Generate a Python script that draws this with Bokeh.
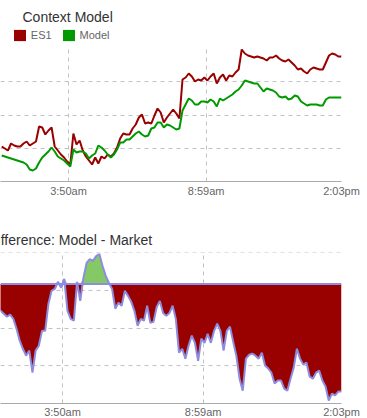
from bokeh.plotting import figure
from bokeh.models import Range1d, FixedTicker, Legend, LegendItem, Span, Label, Grid
from bokeh.layouts import column
from bokeh.embed import file_html
from bokeh.resources import INLINE
import numpy as np

FONT = "Liberation Sans"

# time axis: minutes since midnight, one sample every 7 minutes
start_minute = 80
step_minutes = 7
tick_minutes = [230, 539, 843]
tick_labels = ["3:50am", "8:59am", "2:03pm"]

es1 = [
    2743.5, 2743.3, 2743.1, 2743.8, 2743.6, 2743.5, 2743.5, 2743.8, 2744.0, 2743.6,
    2743.8, 2744.0, 2745.5, 2745.4, 2744.7, 2745.1, 2745.4, 2743.5, 2743.1, 2742.7,
    2742.4, 2742.0, 2741.7, 2744.8, 2743.7, 2744.1, 2743.1, 2742.5, 2742.1, 2741.7,
    2742.4, 2741.8, 2742.5, 2742.3, 2742.7, 2742.5, 2742.8, 2743.4, 2744.3, 2744.8,
    2744.7, 2744.7, 2745.3, 2745.7, 2746.4, 2746.7, 2745.8, 2745.9, 2745.8, 2746.6,
    2747.3, 2746.9, 2745.9, 2746.4, 2746.8, 2747.2, 2746.8, 2746.3, 2750.2, 2750.4,
    2750.8, 2750.5, 2750.0, 2750.2, 2750.1, 2750.4, 2750.1, 2750.5, 2750.8, 2749.8,
    2750.4, 2750.7, 2750.1, 2750.6, 2750.5, 2750.9, 2751.2, 2753.2, 2752.8, 2752.6,
    2752.5, 2752.4, 2752.5, 2752.4, 2752.3, 2752.1, 2752.4, 2752.4, 2752.6, 2752.3,
    2752.1, 2752.0, 2752.2, 2751.9, 2751.6, 2751.2, 2751.3, 2751.0, 2750.8, 2751.2,
    2751.4, 2751.3, 2751.2, 2751.2, 2751.9, 2752.6, 2752.8, 2752.7, 2752.5, 2752.5,
]

model = [
    2742.6, 2742.5, 2742.4, 2742.3, 2742.2, 2742.1, 2742.0, 2741.9, 2741.7, 2741.2,
    2741.1, 2741.3, 2741.9, 2742.4, 2742.7, 2743.0, 2743.4, 2743.0, 2742.5, 2742.3,
    2742.1, 2741.8, 2741.5, 2743.2, 2742.9, 2743.0, 2743.0, 2742.8, 2742.3, 2742.6,
    2742.8, 2743.6, 2743.4, 2743.1, 2742.7, 2742.4, 2742.7, 2743.2, 2743.9, 2743.9,
    2744.2, 2744.2, 2744.5, 2744.8, 2745.0, 2744.7, 2744.5, 2744.6, 2745.3, 2745.4,
    2745.9, 2745.9, 2745.4, 2745.7, 2745.6, 2745.4, 2745.2, 2745.3, 2747.1, 2747.7,
    2748.3, 2748.1, 2747.7, 2747.7, 2748.0, 2748.0, 2747.9, 2748.2, 2748.0, 2747.5,
    2748.3, 2748.1, 2748.3, 2748.5, 2748.7, 2749.0, 2749.2, 2749.6, 2750.1, 2750.0,
    2749.9, 2749.8, 2749.8, 2749.4, 2749.0, 2749.3, 2749.2, 2749.1, 2748.9, 2748.5,
    2748.4, 2748.5, 2748.2, 2748.3, 2748.6, 2748.5, 2748.0, 2747.8, 2747.6, 2747.7,
    2747.7, 2747.7, 2747.6, 2747.6, 2748.2, 2748.4, 2748.4, 2748.4, 2748.4, 2748.4,
]

difference = [
    -0.57, -0.73, -0.90, -1.00, -1.10, -1.03, -1.17, -1.50, -1.90, -2.17,
    -2.40, -2.23, -2.97, -2.23, -2.07, -1.57, -1.57, -0.67, -0.23, -0.17,
    0.07, -0.13, 0.17, -0.90, -1.17, -1.23, 0.07, -0.57, 0.20, 0.70,
    0.83, 0.77, 0.93, 1.00, 0.60, 0.27, 0.03, -0.17, -0.83, -0.63,
    -0.73, -0.23, -0.40, -0.60, -0.90, -1.40, -1.17, -1.23, -0.73, -1.30,
    -1.27, -0.77, -0.57, -0.97, -1.07, -0.97, -0.73, -1.17, -2.30, -2.17,
    -2.50, -2.07, -1.73, -1.97, -2.57, -1.83, -1.97, -1.67, -1.97, -1.57,
    -1.33, -1.57, -2.23, -1.57, -1.43, -1.93, -2.40, -3.17, -3.57, -2.50,
    -2.37, -2.33, -2.40, -2.50, -2.30, -2.73, -2.83, -2.97, -3.33, -3.23,
    -3.23, -3.50, -3.57, -3.17, -2.80, -2.17, -2.50, -2.70, -2.63, -3.10,
    -3.17, -2.97, -2.90, -3.23, -3.43, -3.90, -3.67, -3.73, -3.60, -3.60,
]

times = [start_minute + step_minutes * i for i in range(len(es1))]
overrides = {t: lab for t, lab in zip(tick_minutes, tick_labels)}

GRID_COLOR = "#c2c2c2"
RED = "#990000"
GREEN = "#009900"
BLUE = "#8c8ce0"
W = 367


def header(height):
    h = figure(frame_width=W, frame_height=height,
               x_range=Range1d(0, W), y_range=Range1d(0, height),
               x_axis_location=None, y_axis_location=None,
               output_backend="svg", toolbar_location=None,
               min_border_left=0, min_border_right=0, min_border_top=0,
               min_border_bottom=0, title=None)
    h.outline_line_color = None
    h.grid.visible = False
    return h


def style(p, y_ticks, standoff):
    p.outline_line_color = None
    p.grid.visible = False
    ax = p.xaxis[0]
    ax.ticker = FixedTicker(ticks=tick_minutes)
    ax.major_label_overrides = overrides
    ax.major_tick_line_color = None
    ax.major_tick_out = 0
    ax.major_tick_in = 0
    ax.minor_tick_line_color = None
    ax.axis_line_color = "#aaaaaa"
    ax.major_label_standoff = standoff
    ax.major_label_text_font = FONT
    ax.major_label_text_font_size = "11px"
    ax.major_label_text_color = "#666666"
    gx = Grid(dimension=0, ticker=FixedTicker(ticks=tick_minutes),
              grid_line_color=GRID_COLOR, grid_line_dash="4 4")
    gy = Grid(dimension=1, ticker=FixedTicker(ticks=y_ticks),
              grid_line_color=GRID_COLOR, grid_line_dash="4 4")
    p.add_layout(gx, "center")
    p.add_layout(gy, "center")


# ---------------- header of top chart: title + legend ----------------
h1 = header(48)
h1.add_layout(Label(x=22, y=32, x_units="screen", y_units="screen",
                    text="Context Model", text_font=FONT, text_font_size="14px",
                    text_color="#333333", text_baseline="alphabetic"))
# legend swatches (no visible mark: coordinates are NaN)
r_es = h1.quad(left=[np.nan], right=[np.nan], top=[np.nan], bottom=[np.nan],
               fill_color=RED, line_color=None)
r_md = h1.quad(left=[np.nan], right=[np.nan], top=[np.nan], bottom=[np.nan],
               fill_color=GREEN, line_color=None)
legend = Legend(items=[LegendItem(label="ES1", renderers=[r_es]),
                       LegendItem(label="Model", renderers=[r_md])],
                location=(11.8, 6), orientation="horizontal",
                padding=0, margin=0, spacing=9, label_standoff=4,
                glyph_width=15, glyph_height=14, label_height=14, label_width=10,
                border_line_color=None, background_fill_color=None,
                label_text_font=FONT, label_text_font_size="11px",
                label_text_color="#666666")
h1.add_layout(legend)

# ---------------- top chart ----------------
y1_lo, y1_hi = 2740.0, 2753.3
p1 = figure(frame_width=341, frame_height=133,
            x_range=Range1d(77.3, 843), y_range=Range1d(y1_lo, y1_hi),
            y_axis_location=None, output_backend="svg", toolbar_location=None,
            min_border_left=0, min_border_right=26, min_border_top=0,
            min_border_bottom=25, title=None)
step1 = (y1_hi - y1_lo) / 4
style(p1, [y1_lo + step1 * k for k in range(1, 5)], 3)

p1.line(times, es1, line_color=RED, line_width=2)
p1.line(times, model, line_color=GREEN, line_width=2)

# ---------------- header of bottom chart: title ----------------
h2 = header(46)
h2.add_layout(Label(x=-13, y=13, x_units="screen", y_units="screen",
                    text="Difference: Model - Market", text_font=FONT,
                    text_font_size="14px", text_color="#333333",
                    text_baseline="alphabetic"))

# ---------------- bottom chart ----------------
y2_lo, y2_hi = -4.0, 1.05
p2 = figure(frame_width=341, frame_height=151,
            x_range=Range1d(93.8, 843), y_range=Range1d(y2_lo, y2_hi),
            y_axis_location=None, output_backend="svg", toolbar_location=None,
            min_border_left=0, min_border_right=26, min_border_top=0,
            min_border_bottom=0, title=None)
step2 = (y2_hi - y2_lo) / 4
style(p2, [y2_lo + step2 * k for k in range(1, 5)], 2)

diff_arr = np.array(difference)
p2.varea(x=times, y1=0, y2=np.minimum(diff_arr, 0), fill_color=RED)
p2.varea(x=times, y1=0, y2=np.maximum(diff_arr, 0), fill_color="#84c966")
p2.add_layout(Span(location=0, dimension="width", line_color=BLUE, line_width=2))
p2.line(times, difference, line_color=BLUE, line_width=2)

layout = column(h1, p1, h2, p2, spacing=0)
open("out.html", "w").write(file_html(layout, INLINE))
